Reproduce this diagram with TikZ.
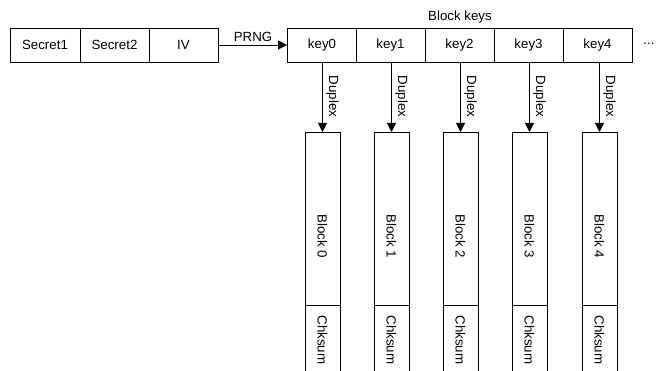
\documentclass[tikz,border=0pt]{standalone}
\usepackage{fontspec}
\setmainfont{Liberation Sans}
\usetikzlibrary{arrows.meta,calc}
\begin{document}
\begin{tikzpicture}[x=1pt,y=-1pt,line width=0.8pt,
  cell/.style={draw,minimum height=34pt,inner sep=0pt,font=\fontsize{13.3}{15}\selectfont},
  lbl/.style={inner sep=0pt,font=\fontsize{13.3}{15}\selectfont},
  arr/.style={-{Triangle[length=9pt,width=9pt]}}]
\useasboundingbox (0,0) rectangle (657,371);
\begin{scope}
\clip (0,0) rectangle (657,371);
\node[cell,minimum width=70pt] (s1) at (45,45) {Secret1};
\node[cell,minimum width=69pt] (s2) at (114.5,45) {Secret2};
\node[cell,minimum width=69pt] (iv) at (183.5,45) {IV};
\foreach \i/\x in {0/322,1/390.5,2/459.5,3/528.5,4/597.5}{
  \node[cell,minimum width=69pt] (k\i) at (\x,45) {key\i};
}
\foreach \i/\x in {0/322.5,1/391.5,2/460.5,3/529.5,4/599.5}{
  \draw (\x-17.5,132) rectangle (\x+17.5,305);
  \draw (\x-17.5,305) rectangle (\x+17.5,400);
  \node[lbl,rotate=-90] (b\i) at (\x,236) {Block \i};
  \node[lbl,rotate=-90] (c\i) at (\x,340) {Chksum};
  \coordinate (t\i) at (\x,132);
}
\foreach \i in {0,...,4}{
  \draw[arr] (t\i |- k\i.south) coordinate (a\i) -- (t\i);
  \node[lbl,rotate=-90] at ($(a\i)+(10,34)$) {Duplex};
}
\end{scope}
\draw[arr] (iv.east) -- (k0.west);
\node[lbl] (prng) at (253,37) {PRNG};
\node[lbl] (bk) at (460,17) {Block keys};
\node[lbl] (dots) at (649,44) {...};
\end{tikzpicture}
\end{document}
